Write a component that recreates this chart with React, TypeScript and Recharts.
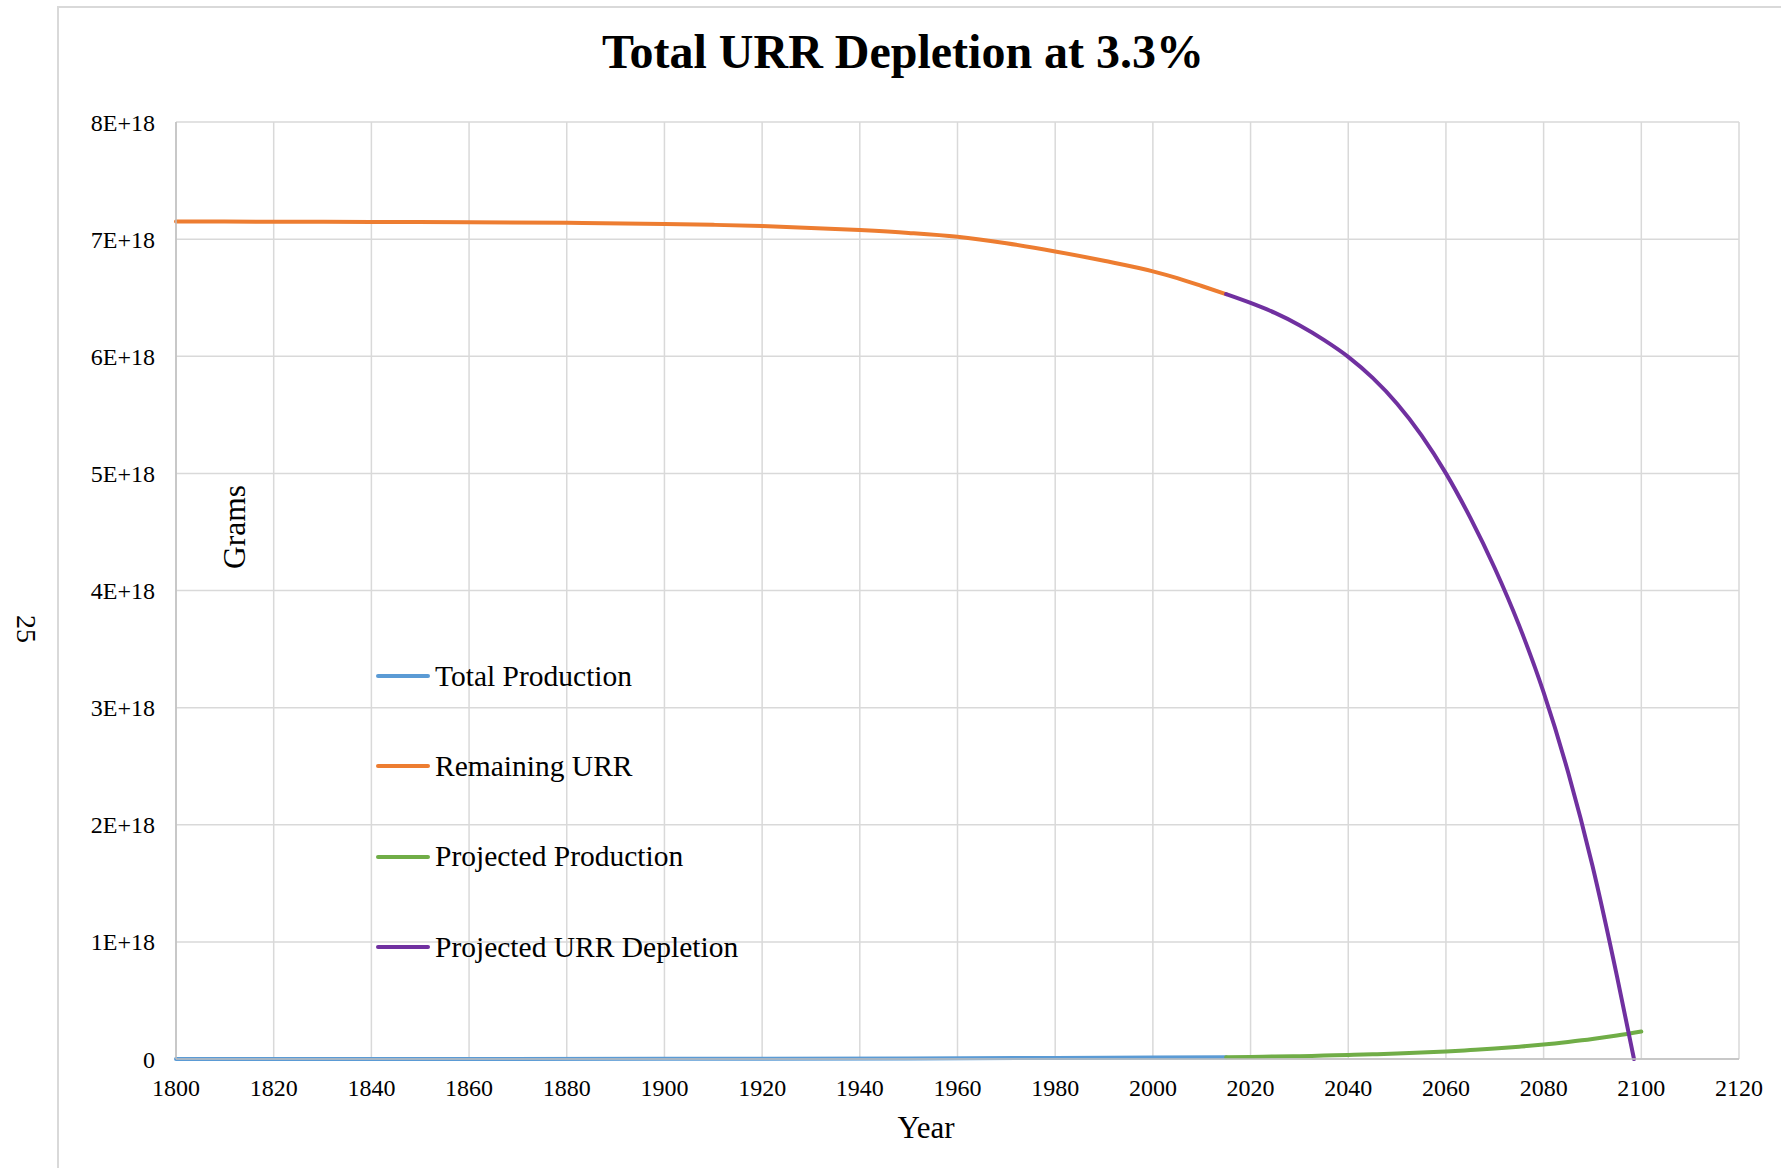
import React from 'react';
import { LineChart, Line, XAxis, YAxis, CartesianGrid, Legend } from 'recharts';

const seriesNames = ['Total Production', 'Remaining URR', 'Projected Production', 'Projected URR Depletion'];
const seriesColors = ['#5B9BD5', '#ED7D31', '#70AD47', '#7030A0'];

const xTicks = [1800, 1820, 1840, 1860, 1880, 1900, 1920, 1940, 1960, 1980, 2000, 2020, 2040, 2060, 2080, 2100, 2120];
const yTicks = [0, 1e18, 2e18, 3e18, 4e18, 5e18, 6e18, 7e18, 8e18];

const totalProductionYears = [1800, 1850, 1900, 1950, 1980, 2000, 2015];
const totalProductionValues = [0.0001e18, 0.0005e18, 0.002e18, 0.005e18, 0.009e18, 0.012e18, 0.015e18];

const remainingYears = [1800, 1820, 1840, 1860, 1880, 1900, 1910, 1920, 1930, 1940, 1950, 1960, 1970, 1980, 1990, 2000, 2005, 2010, 2015];
const remainingValues = [7.15e18, 7.149e18, 7.147e18, 7.145e18, 7.14e18, 7.13e18, 7.122e18, 7.111e18, 7.096e18, 7.077e18, 7.053e18, 7.02e18, 6.965e18, 6.895e18, 6.815e18, 6.725e18, 6.667e18, 6.6e18, 6.53e18];

const projProdYears = [2015, 2020, 2025, 2030, 2035, 2040, 2045, 2050, 2055, 2060, 2065, 2070, 2075, 2080, 2085, 2090, 2095, 2100];
const projProdValues = [0.015e18, 0.018e18, 0.021e18, 0.024e18, 0.029e18, 0.034e18, 0.04e18, 0.047e18, 0.055e18, 0.064e18, 0.076e18, 0.089e18, 0.105e18, 0.123e18, 0.145e18, 0.17e18, 0.2e18, 0.235e18];

const projUrrYears = [2015, 2020, 2025, 2030, 2035, 2040, 2045, 2050, 2055, 2060, 2065, 2070, 2075, 2080, 2085, 2090, 2095, 2098.5];
const projUrrValues = [6.53e18, 6.455e18, 6.37e18, 6.265e18, 6.14e18, 5.995e18, 5.815e18, 5.595e18, 5.325e18, 5.0e18, 4.62e18, 4.19e18, 3.7e18, 3.13e18, 2.45e18, 1.65e18, 0.71e18, 0];

const build = (years: number[], values: number[]) => years.map((year, i) => ({ year, value: values[i] }));
const seriesData = [
  build(totalProductionYears, totalProductionValues),
  build(remainingYears, remainingValues),
  build(projProdYears, projProdValues),
  build(projUrrYears, projUrrValues),
];

const FONT = '"Liberation Serif", "Times New Roman", serif';

const yFmt = (v: number) => (v === 0 ? '0' : `${Math.round(v / 1e18)}E+18`);

const LegendContent = () => (
  <div style={{ fontFamily: FONT }}>
    {seriesNames.map((n, i) => (
      <div key={n} style={{ height: 90.3, display: 'flex', alignItems: 'center' }}>
        <div style={{ width: 54, height: 4, background: seriesColors[i], borderRadius: 2, marginRight: 5 }} />
        <span style={{ fontSize: 29.5, color: '#000', whiteSpace: 'nowrap' }}>{n}</span>
      </div>
    ))}
  </div>
);

export default function App() {
  return (
    <div style={{ position: 'absolute', left: 0, top: 0, width: 1781, height: 1168, background: '#fff' }}>
      <div style={{ position: 'absolute', left: 57, top: 6, width: 1724, height: 1162, borderLeft: '2px solid #d9d9d9', borderTop: '2px solid #d9d9d9', boxSizing: 'border-box' }} />
      <div style={{ position: 'absolute', left: 0, top: 0 }}>
        <LineChart width={1781} height={1168} margin={{ top: 122, right: 42, bottom: 69, left: 116 }}>
          <CartesianGrid stroke="#d9d9d9" strokeWidth={1.5} />
          <XAxis
            dataKey="year"
            type="number"
            domain={[1800, 2120]}
            ticks={xTicks}
            allowDuplicatedCategory={false}
            height={40}
            tickLine={false}
            tickSize={0}
            tickMargin={19.5}
            axisLine={{ stroke: '#bfbfbf', strokeWidth: 1.5 }}
            tick={{ fill: '#000', fontSize: 24, fontFamily: FONT }}
          />
          <YAxis
            type="number"
            domain={[0, 8e18]}
            ticks={yTicks}
            tickFormatter={yFmt}
            width={60}
            tickLine={false}
            tickSize={0}
            tickMargin={21}
            axisLine={{ stroke: '#bfbfbf', strokeWidth: 1.5 }}
            tick={{ fill: '#000', fontSize: 24, fontFamily: FONT }}
          />
          <Legend
            layout="vertical"
            align="center"
            verticalAlign="middle"
            content={<LegendContent />}
            wrapperStyle={{ position: 'absolute', left: 376, top: 631, width: 400 }}
          />
          {seriesData.map((d, i) => (
            <Line
              key={seriesNames[i]}
              data={d}
              dataKey="value"
              name={seriesNames[i]}
              type="monotone"
              stroke={seriesColors[i]}
              strokeWidth={4}
              strokeLinecap="round"
              strokeLinejoin="round"
              dot={false}
              activeDot={false}
              isAnimationActive={false}
            />
          ))}
        </LineChart>
      </div>
      <svg width={1781} height={1168} style={{ position: 'absolute', left: 0, top: 0, pointerEvents: 'none' }}>
        <text x={903} y={68} textAnchor="middle" fontFamily={FONT} fontWeight="bold" fontSize={48} fill="#000">
          Total URR Depletion at 3.3%
        </text>
        <text x={926} y={1138} textAnchor="middle" fontFamily={FONT} fontSize={31} fill="#000">
          Year
        </text>
        <text x={235} y={527} dy="0.33em" textAnchor="middle" fontFamily={FONT} fontSize={31.5} fill="#000" transform="rotate(-90 235 527)">
          Grams
        </text>
        <text x={26} y={629} dy="0.33em" textAnchor="middle" fontFamily={FONT} fontSize={28} fill="#000" transform="rotate(90 26 629)">
          25
        </text>
      </svg>
    </div>
  );
}
